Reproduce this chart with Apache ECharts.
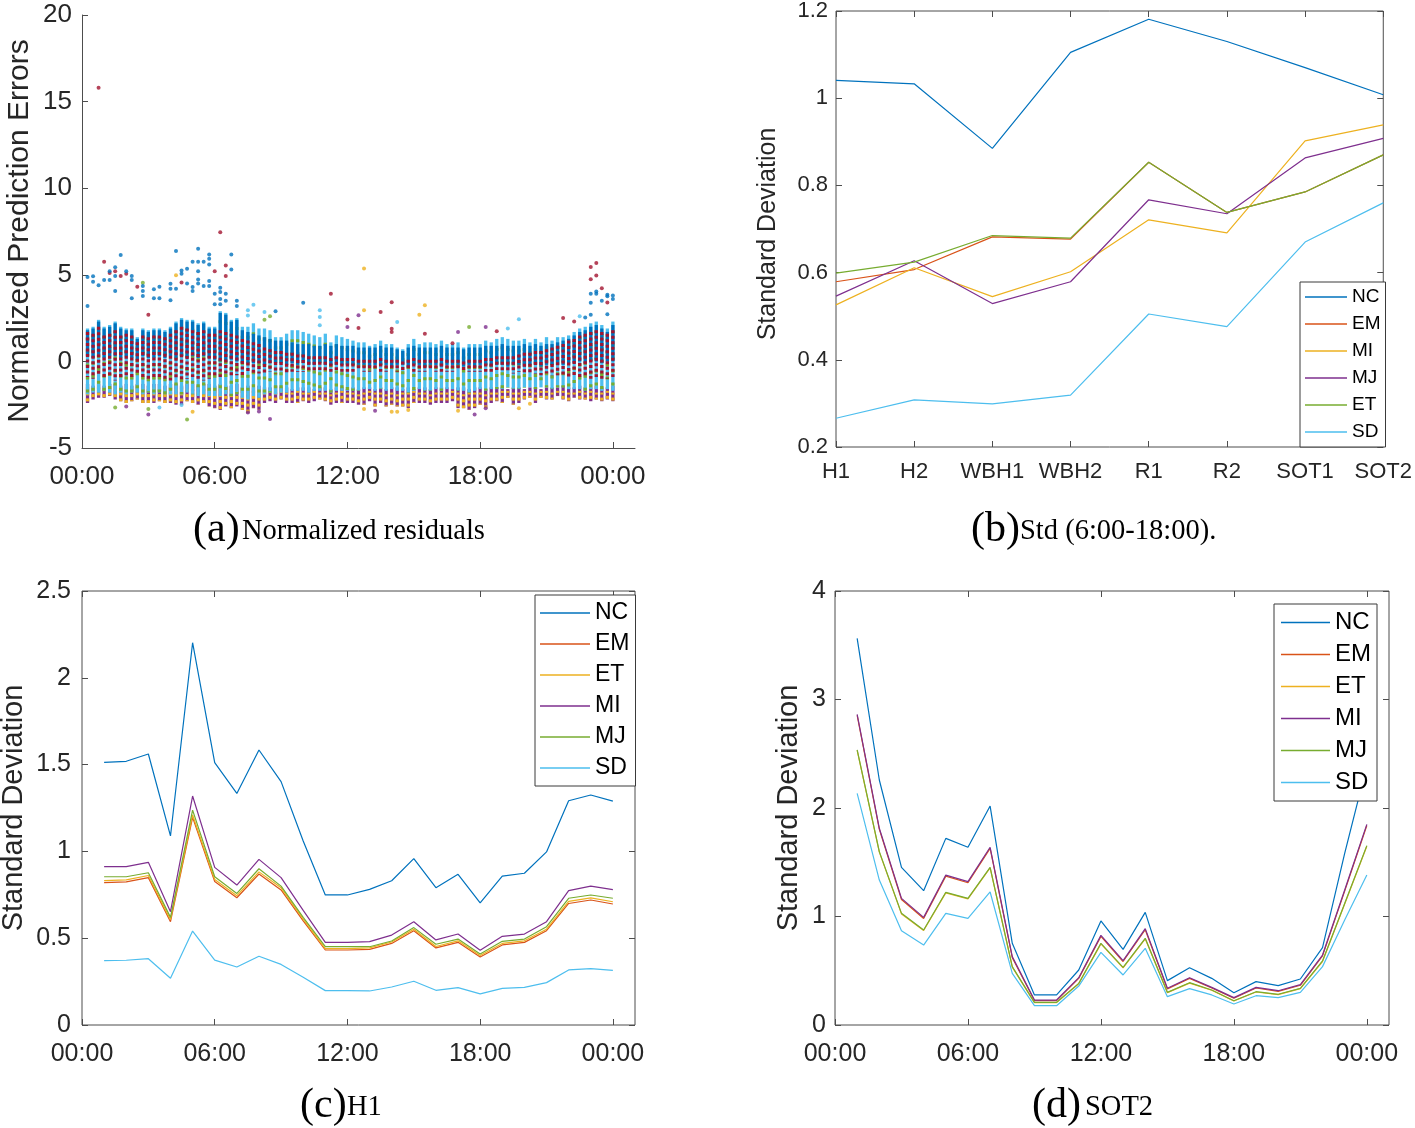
<!DOCTYPE html>
<html><head><meta charset="utf-8">
<script src="https://cdn.jsdelivr.net/npm/echarts@6/dist/echarts.min.js"></script>
<style>html,body{margin:0;padding:0;background:#fff}#c{width:1415px;height:1128px}</style>
</head><body><div id="c"></div>
<script>
// ---------- Panel (a): normalized residuals, 15-min slots ----------
const slotHours = [0.25,0.5,0.75,1,1.25,1.5,1.75,2, 2.25,2.5,2.75,3,3.25,3.5,3.75,4, 4.25,4.5,4.75,5,5.25,5.5,5.75,6, 6.25,6.5,6.75,7,7.25,7.5,7.75,8, 8.25,8.5,8.75,9,9.25,9.5,9.75,10, 10.25,10.5,10.75,11,11.25,11.5,11.75,12, 12.25,12.5,12.75,13,13.25,13.5,13.75,14, 14.25,14.5,14.75,15,15.25,15.5,15.75,16, 16.25,16.5,16.75,17,17.25,17.5,17.75,18, 18.25,18.5,18.75,19,19.25,19.5,19.75,20, 20.25,20.5,20.75,21,21.25,21.5,21.75,22, 22.25,22.5,22.75,23,23.25,23.5,23.75,24];
const colTop = [1.9,2.0,2.4,2.0,2.1,2.3,2.0,1.9, 1.9,1.4,1.9,1.8,1.9,1.9,1.8,2.0, 2.3,2.5,2.4,2.4,2.2,2.3,2.0,2.0, 2.9,2.8,2.4,2.5,2.0,2.0,2.2,1.9, 1.9,1.8,1.4,1.4,1.6,1.8,1.8,1.7, 1.6,1.5,1.4,1.6,1.1,1.5,1.4,1.3, 1.2,1.1,1.1,0.9,1.0,1.2,1.0,1.0, 0.8,0.7,1.0,1.3,1.0,1.1,1.1,1.0, 1.2,1.0,1.0,1.1,0.8,1.0,1.0,1.0, 1.2,1.1,1.3,1.4,1.3,1.2,1.2,1.3, 1.1,1.3,1.1,1.4,1.2,1.4,1.4,1.5, 1.7,1.9,2.0,2.2,2.3,2.1,1.9,2.3];
const colBottom = [-2.4,-2.2,-2.1,-2.1,-2.0,-2.2,-2.3,-2.4, -2.3,-2.2,-2.4,-2.4,-2.4,-2.3,-2.4,-2.4, -2.5,-2.5,-2.3,-2.4,-2.5,-2.4,-2.6,-2.7, -2.8,-2.6,-2.7,-2.6,-2.8,-3.0,-2.7,-2.8, -2.4,-2.3,-2.4,-2.2,-2.4,-2.4,-2.4,-2.3, -2.4,-2.3,-2.2,-2.3,-2.5,-2.4,-2.4,-2.4, -2.4,-2.5,-2.5,-2.3,-2.6,-2.4,-2.6,-2.5, -2.6,-2.6,-2.7,-2.4,-2.4,-2.4,-2.5,-2.4, -2.4,-2.4,-2.3,-2.7,-2.7,-2.8,-2.7,-2.5, -2.7,-2.4,-2.3,-2.4,-2.1,-2.5,-2.4,-2.2, -2.1,-2.4,-2.1,-2.2,-2.2,-2.0,-2.2,-2.3, -2.1,-2.2,-2.2,-2.3,-2.2,-2.3,-2.2,-2.3];
const ncHi = [1.8,1.9,2.3,1.9,2.0,2.2,1.9,1.8, 1.8,1.3,1.8,1.7,1.8,1.8,1.7,1.9, 2.2,2.4,2.3,2.3,2.1,2.2,1.9,1.9, 2.8,2.7,2.3,2.4,1.8,1.7,1.6,1.5, 1.4,1.3,1.2,1.2,1.2,1.1,1.0,1.0, 1.0,0.9,0.9,1.0,0.9,1.0,0.9,0.9, 0.9,0.8,0.8,0.8,0.8,0.9,0.8,0.8, 0.7,0.6,0.8,0.9,0.8,0.8,0.8,0.8, 0.9,0.8,0.8,0.8,0.7,0.8,0.8,0.8, 0.9,0.9,0.9,1.0,0.9,0.9,0.9,1.0, 0.9,1.0,0.9,1.0,1.0,1.1,1.2,1.3, 1.5,1.7,1.8,2.0,2.1,1.9,1.7,2.1];
const ncLo = [0.3,0.2,0.4,0.2,0.3,0.3,0.2,0.3, 0.2,0.1,0.3,0.2,0.2,0.3,0.2,0.3, 0.2,0.3,0.2,0.3,0.2,0.3,0.2,0.1, 0.0,0.0,0.1,0.0,-0.1,-0.1,-0.1,-0.1, -0.2,-0.1,-0.1,-0.1,-0.2,-0.1,-0.2,-0.1, -0.2,-0.2,-0.1,-0.2,-0.2,-0.2,-0.2,-0.2, -0.2,-0.2,-0.2,-0.3,-0.2,-0.2,-0.2,-0.3, -0.2,-0.2,-0.3,-0.2,-0.2,-0.3,-0.2,-0.2, -0.3,-0.2,-0.2,-0.2,-0.3,-0.2,-0.3,-0.2, -0.2,-0.3,-0.2,-0.2,-0.3,-0.2,-0.2,-0.3, -0.2,-0.2,-0.3,-0.2,-0.2,-0.2,-0.2,-0.1, -0.1,0.0,-0.1,0.0,0.0,-0.1,0.0,0.0];
const emHi = [1.7,1.6,2.0,1.5,1.6,1.8,1.5,1.6, 1.5,1.1,1.5,1.4,1.5,1.5,1.4,1.6, 1.8,2.0,1.9,1.8,1.7,1.8,1.6,1.6, 1.8,1.7,1.6,1.5,1.3,1.2,1.1,1.0, 0.8,0.7,0.6,0.6,0.5,0.5,0.4,0.4, 0.3,0.3,0.3,0.3,0.2,0.3,0.2,0.2, 0.2,0.1,0.1,0.1,0.1,0.2,0.1,0.1, 0.1,0.0,0.1,0.2,0.1,0.1,0.1,0.1, 0.2,0.1,0.1,0.1,0.0,0.1,0.1,0.1, 0.2,0.2,0.3,0.3,0.3,0.3,0.4,0.5, 0.5,0.6,0.6,0.7,0.8,0.9,1.0,1.2, 1.3,1.5,1.6,1.7,1.8,1.7,1.6,1.8];
const emLo = [-0.9,-1.0,-0.8,-1.0,-0.9,-1.1,-1.0,-0.9, -1.0,-0.8,-1.0,-1.1,-1.0,-0.9,-1.0,-1.1, -1.0,-1.1,-1.0,-0.9,-1.0,-1.1,-1.0,-0.9, -0.9,-0.8,-0.9,-0.8,-0.8,-0.7,-0.8,-0.7, -0.7,-0.6,-0.7,-0.6,-0.7,-0.6,-0.6,-0.6, -0.6,-0.6,-0.5,-0.6,-0.6,-0.5,-0.6,-0.6, -0.6,-0.5,-0.6,-0.6,-0.5,-0.6,-0.6,-0.5, -0.6,-0.6,-0.5,-0.6,-0.6,-0.6,-0.5,-0.6, -0.6,-0.6,-0.6,-0.5,-0.6,-0.6,-0.6,-0.6, -0.6,-0.6,-0.5,-0.6,-0.6,-0.7,-0.6,-0.7, -0.7,-0.7,-0.8,-0.7,-0.8,-0.8,-0.9,-0.9, -0.9,-1.0,-0.9,-1.0,-0.9,-1.0,-1.0,-0.9];
const sdLo = [-1.9,-1.8,-1.8,-1.7,-1.8,-1.9,-1.8,-1.9, -1.8,-1.8,-1.9,-1.8,-1.9,-1.8,-1.9,-1.9, -1.9,-1.9,-1.8,-1.9,-2.0,-1.9,-2.0,-2.0, -2.0,-1.9,-2.0,-1.9,-2.1,-2.2,-2.0,-2.1, -1.9,-1.8,-1.9,-1.8,-1.8,-1.7,-1.7,-1.7, -1.8,-1.7,-1.7,-1.7,-1.8,-1.7,-1.7,-1.7, -1.7,-1.7,-1.6,-1.6,-1.7,-1.6,-1.7,-1.6, -1.7,-1.7,-1.8,-1.7,-1.6,-1.7,-1.7,-1.6, -1.7,-1.6,-1.6,-1.7,-1.7,-1.8,-1.7,-1.6, -1.7,-1.6,-1.6,-1.6,-1.5,-1.6,-1.6,-1.5, -1.5,-1.6,-1.5,-1.5,-1.6,-1.5,-1.5,-1.6, -1.6,-1.6,-1.7,-1.6,-1.6,-1.7,-1.6,-1.7];
const mjTop = [-1.3,-1.4,-1.3,-1.4,-1.3,-1.3,-1.4,-1.3, -1.4,-1.3,-1.3,-1.4,-1.3,-1.3,-1.4,-1.3, -1.3,-1.4,-1.3,-1.3,-1.4,-1.3,-1.3,-1.4, -1.3,-1.4,-1.4,-1.3,-1.5,-1.4,-1.5,-1.4, -1.5,-1.5,-1.4,-1.5,-1.5,-1.6,-1.5,-1.5, -1.5,-1.6,-1.5,-1.5,-1.6,-1.5,-1.5,-1.6, -1.5,-1.6,-1.5,-1.5,-1.6,-1.5,-1.6,-1.5, -1.5,-1.6,-1.5,-1.6,-1.5,-1.5,-1.6,-1.5, -1.5,-1.5,-1.6,-1.5,-1.5,-1.6,-1.5,-1.5, -1.6,-1.5,-1.5,-1.5,-1.6,-1.5,-1.5,-1.6, -1.5,-1.5,-1.6,-1.5,-1.5,-1.5,-1.4,-1.5, -1.5,-1.4,-1.5,-1.5,-1.4,-1.5,-1.5,-1.4];
const miTop = [-1.5,-1.6,-1.5,-1.6,-1.5,-1.6,-1.5,-1.6, -1.6,-1.5,-1.6,-1.6,-1.5,-1.6,-1.6,-1.5, -1.6,-1.5,-1.6,-1.6,-1.5,-1.6,-1.6,-1.7, -1.6,-1.7,-1.6,-1.7,-1.7,-1.8,-1.7,-1.8, -1.8,-1.7,-1.8,-1.7,-1.8,-1.8,-1.7,-1.8, -1.8,-1.7,-1.8,-1.8,-1.9,-1.8,-1.7,-1.8, -1.8,-1.9,-1.8,-1.7,-1.8,-1.8,-1.9,-1.8, -1.9,-1.8,-1.8,-1.7,-1.8,-1.8,-1.9,-1.8, -1.8,-1.8,-1.7,-1.8,-1.9,-1.8,-1.8,-1.8, -1.9,-1.8,-1.8,-1.7,-1.7,-1.8,-1.8,-1.7, -1.7,-1.8,-1.7,-1.7,-1.8,-1.7,-1.7,-1.8, -1.8,-1.7,-1.8,-1.7,-1.8,-1.8,-1.7,-1.8];
// isolated points [hour, value]
const ncOut = [[0.25,4.87],[0.25,3.2],[0.5,4.92],[0.5,4.6],[0.75,4.4],[1.0,4.7],[1.25,5.2],[1.25,4.7],[1.5,5.44],[1.5,4.93],[1.5,4.07],[1.75,6.14],[2.0,5.2],[2.25,4.93],[2.25,4.7],[2.25,3.64],[2.75,4.35],[2.75,4.07],[2.75,3.77],[3.25,4.16],[3.25,3.64],[3.5,4.31],[3.5,3.64],[4.0,4.49],[4.0,4.2],[4.0,3.53],[4.25,6.37],[4.25,4.2],[4.5,5.25],[4.5,5.06],[4.75,5.35],[4.75,4.5],[5.0,5.75],[5.0,4.29],[5.0,4.07],[5.25,6.5],[5.25,5.75],[5.25,5.2],[5.25,4.73],[5.25,4.5],[5.5,5.75],[5.5,4.35],[5.75,6.17],[5.75,5.92],[5.75,5.6],[5.75,4.64],[5.75,4.35],[6.0,3.9],[6.0,3.3],[6.25,4.25],[6.25,4.0],[6.25,3.6],[6.25,3.3],[6.5,3.9],[6.5,3.5],[6.75,6.17],[6.75,5.31],[7.0,3.5],[7.0,3.2],[8.75,2.9],[10.0,3.39],[22.75,2.54],[23.0,3.9],[23.0,3.39],[23.0,2.7],[23.25,4.04],[23.25,3.9],[23.5,3.5],[23.75,3.76],[23.75,3.85],[23.75,2.72],[24.0,3.8],[24.0,3.6]];
const emOut = [[0.75,15.8],[1.0,5.75],[1.25,5.1],[1.5,5.2],[1.75,4.93],[2.0,5.06],[2.5,4.31],[3.0,2.7],[4.5,4.55],[6.0,5.2],[6.25,7.46],[6.5,5.53],[6.5,4.93],[11.25,3.9],[12.0,2.42],[12.5,1.93],[13.5,2.85],[14.0,3.41],[14.0,1.89],[14.0,1.7],[15.5,1.6],[16.75,1.05],[18.75,1.74],[21.75,2.51],[22.25,2.3],[23.0,5.45],[23.25,5.68],[23.0,4.74],[23.25,4.96],[23.5,4.23],[23.75,3.4]];
const miOut = [[4.25,4.98],[12.75,5.37],[12.75,2.95],[15.5,3.24],[15.25,2.69],[5.0,-2.9],[12.75,-2.75],[14.0,-2.91],[14.25,-2.91],[14.75,-2.8],[17.0,-2.85],[19.75,-2.7],[20.25,-2.45]];
const mjOut = [[12.5,2.66],[12.0,1.98],[17.0,1.7],[18.25,1.98],[2.0,-2.6],[3.0,-3.06],[7.5,-2.95],[8.0,-2.89],[8.5,-3.33],[13.25,-2.85],[17.75,-3.06],[18.25,-2.7]];
const etOut = [[2.75,4.54],[8.25,2.4],[8.5,2.6],[17.5,1.99],[1.5,-2.66],[3.0,-2.75],[4.75,-3.35]];
const sdOut = [[3.5,-2.66],[4.5,-2.52],[7.5,2.95],[7.5,2.65],[7.75,3.27],[8.25,2.85],[10.75,2.95],[10.75,2.57],[10.75,2.09],[14.25,2.28],[19.25,1.9],[19.75,2.43],[22.5,2.6]];

// ---------- Panel (b): Std (6:00-18:00) ----------
const bCats = ['H1','H2','WBH1','WBH2','R1','R2','SOT1','SOT2'];
const bNC = [1.041,1.033,0.885,1.105,1.181,1.130,1.070,1.008];
const bEM = [0.579,0.607,0.682,0.677,0.853,0.738,0.785,0.870];
const bMI = [0.526,0.611,0.545,0.602,0.721,0.691,0.902,0.939];
const bMJ = [0.546,0.627,0.529,0.579,0.767,0.735,0.863,0.908];
const bET = [0.599,0.624,0.685,0.679,0.853,0.738,0.785,0.870];
const bSD = [0.266,0.308,0.299,0.319,0.505,0.476,0.670,0.760];

// ---------- Panels (c) H1 and (d) SOT2: hourly std ----------
const hours = [1,2,3,4,5,6,7,8,9,10,11,12,13,14,15,16,17,18,19,20,21,22,23,24];
const cNC = [1.513,1.519,1.561,1.089,2.202,1.511,1.334,1.584,1.402,1.06,0.749,0.749,0.781,0.831,0.958,0.791,0.868,0.703,0.858,0.874,0.997,1.292,1.325,1.290];
const cEM = [0.82,0.824,0.849,0.595,1.196,0.826,0.733,0.87,0.778,0.60,0.432,0.432,0.436,0.47,0.543,0.444,0.476,0.392,0.461,0.476,0.543,0.70,0.72,0.697];
const cET = [0.832,0.836,0.861,0.607,1.21,0.838,0.745,0.882,0.79,0.61,0.44,0.44,0.444,0.478,0.552,0.452,0.485,0.40,0.47,0.485,0.552,0.712,0.732,0.71];
const cMI = [0.912,0.912,0.937,0.653,1.319,0.908,0.806,0.954,0.849,0.66,0.476,0.476,0.48,0.518,0.595,0.49,0.524,0.43,0.511,0.524,0.595,0.774,0.80,0.78];
const cMJ = [0.854,0.854,0.877,0.62,1.238,0.854,0.758,0.90,0.80,0.62,0.451,0.451,0.451,0.484,0.561,0.465,0.495,0.409,0.482,0.495,0.566,0.73,0.749,0.73];
const cSD = [0.371,0.373,0.382,0.269,0.541,0.374,0.334,0.396,0.349,0.275,0.198,0.198,0.196,0.219,0.252,0.2,0.215,0.179,0.211,0.217,0.244,0.317,0.325,0.315];
const dNC = [3.564,2.258,1.453,1.238,1.72,1.638,2.018,0.753,0.277,0.277,0.507,0.959,0.697,1.038,0.409,0.528,0.43,0.298,0.40,0.363,0.424,0.713,1.582,2.39];
const dEM = [2.853,1.803,1.157,0.982,1.372,1.311,1.628,0.62,0.225,0.225,0.43,0.816,0.585,0.878,0.332,0.43,0.341,0.247,0.341,0.31,0.366,0.637,1.234,1.839];
const dET = [2.53,1.593,1.024,0.871,1.218,1.162,1.448,0.534,0.206,0.206,0.38,0.748,0.527,0.794,0.298,0.386,0.32,0.221,0.304,0.28,0.335,0.585,1.115,1.648];
const dMI = [2.863,1.813,1.167,0.992,1.382,1.321,1.638,0.63,0.23,0.23,0.436,0.826,0.593,0.888,0.338,0.436,0.347,0.252,0.347,0.316,0.372,0.645,1.244,1.849];
const dMJ = [2.535,1.598,1.029,0.876,1.223,1.167,1.453,0.538,0.209,0.209,0.384,0.753,0.531,0.799,0.301,0.39,0.323,0.224,0.307,0.283,0.338,0.59,1.12,1.653];
const dSD = [2.135,1.336,0.869,0.737,1.029,0.983,1.226,0.476,0.178,0.178,0.359,0.67,0.461,0.707,0.261,0.335,0.277,0.194,0.27,0.252,0.301,0.538,0.968,1.382];

const tickHours = [0,6,12,18,24];
const tickLabels = ['00:00','06:00','12:00','18:00','00:00'];

// ---------- styling ----------
const FONT = '"Liberation Sans", Arial, Helvetica, sans-serif';
const SERIF = '"Liberation Serif", "Times New Roman", serif';
const LBL = '#262626', AX = '#4d4d4d';
const C = {blue:'#0072BD', orange:'#D95319', yellow:'#EDB120', purple:'#7E2F8E', green:'#77AC30', cyan:'#4DBEEE', dred:'#A2142F'};

const chart = echarts.init(document.getElementById('c'), null, {renderer:'canvas'});

function hourFmt(v){ const i = tickHours.indexOf(Math.round(v)); return i >= 0 ? tickLabels[i] : ''; }
function timeAxis(grid, fs, margin){
  return {type:'value', gridIndex:grid, min:0, max:25, interval:6,
    axisLine:{show:grid===0, onZero:false, lineStyle:{color:AX, width:1}},
    axisTick:{show:true, inside:true, length:6, customValues:tickHours, lineStyle:{color:AX}},
    axisLabel:{show:true, customValues:tickHours, formatter:hourFmt, fontSize:fs, fontFamily:FONT, color:LBL, margin:margin},
    splitLine:{show:false}};
}
function mirrorTime(grid){
  return {type:'value', gridIndex:grid, position:'top', min:0, max:25, interval:6,
    axisLine:{show:false, onZero:false}, axisTick:{show:true, inside:true, length:6, customValues:tickHours, lineStyle:{color:AX}},
    axisLabel:{show:false}, splitLine:{show:false}};
}
function valAxis(grid, min, max, step, fs, margin, showLine){
  return {type:'value', gridIndex:grid, min:min, max:max, interval:step,
    axisLine:{show:!!showLine, onZero:false, lineStyle:{color:AX, width:1}},
    axisTick:{show:true, inside:true, length:6, lineStyle:{color:AX}},
    axisLabel:{fontSize:fs, fontFamily:FONT, color:LBL, margin:margin},
    splitLine:{show:false}};
}
function mirrorVal(grid, min, max, step){
  return {type:'value', gridIndex:grid, position:'right', min:min, max:max, interval:step,
    axisLine:{show:false, onZero:false}, axisTick:{show:true, inside:true, length:6, lineStyle:{color:AX}},
    axisLabel:{show:false}, splitLine:{show:false}};
}

function band(name, lo, hi, color, width, dash, off){
  return {type:'custom', name:name, xAxisIndex:0, yAxisIndex:0, silent:true, clip:true,
    data: slotHours.map((h,i)=>[h, lo[i], hi[i]]),
    encode:{x:0, y:[1,2]},
    renderItem:function(params, api){
      const x = api.value(0), l = api.value(1), u = api.value(2);
      const p1 = api.coord([x, u]), p2 = api.coord([x, l]);
      const st = {stroke:color, lineWidth:width, lineCap:'butt'};
      if (dash) { st.lineDash = dash; st.lineDashOffset = off; }
      return {type:'line', shape:{x1:p1[0], y1:p1[1], x2:p2[0], y2:p2[1]}, style:st};
    }};
}
function pts(name, data, color){
  return {type:'scatter', name:name, xAxisIndex:0, yAxisIndex:0, silent:true, symbolSize:4,
    itemStyle:{color:color}, data:data};
}
function line(name, xi, yi, data, color){
  return {type:'line', name:name, xAxisIndex:xi, yAxisIndex:yi, data:data, symbol:'none', silent:true,
    lineStyle:{color:color, width:1.2}, itemStyle:{color:color}};
}
const pair = arr => hours.map((h,i)=>[h, arr[i]]);

const series = [
  band('a-MJ', colBottom, mjTop, C.purple, 3.3, null, 0),
  band('a-MI', colBottom, miTop, C.yellow, 3.3, [3,3], 1),
  band('a-SD', sdLo, colTop, C.cyan, 3.3, null, 0),
  band('a-ET', sdLo, colTop, C.green, 3.3, [3,10], 4),
  band('a-NC', ncLo, ncHi, C.blue, 3.3, null, 0),
  band('a-EM', emLo, emHi, C.dred, 3.3, [3,2.5], 0),
  pts('a-MJo', mjOut, C.purple), pts('a-MIo', miOut, C.yellow), pts('a-SDo', sdOut, C.cyan),
  pts('a-ETo', etOut, C.green), pts('a-EMo', emOut, C.dred), pts('a-NCo', ncOut, C.blue),
  // (b)
  line('b:NC',1,1,bNC,C.blue), line('b:EM',1,1,bEM,C.orange), line('b:MI',1,1,bMI,C.yellow),
  line('b:MJ',1,1,bMJ,C.purple), line('b:ET',1,1,bET,C.green), line('b:SD',1,1,bSD,C.cyan),
  // (c)
  line('c:NC',3,3,pair(cNC),C.blue), line('c:EM',3,3,pair(cEM),C.orange), line('c:ET',3,3,pair(cET),C.yellow),
  line('c:MI',3,3,pair(cMI),C.purple), line('c:MJ',3,3,pair(cMJ),C.green), line('c:SD',3,3,pair(cSD),C.cyan),
  // (d)
  line('d:NC',5,5,pair(dNC),C.blue), line('d:EM',5,5,pair(dEM),C.orange), line('d:ET',5,5,pair(dET),C.yellow),
  line('d:MI',5,5,pair(dMI),C.purple), line('d:MJ',5,5,pair(dMJ),C.green), line('d:SD',5,5,pair(dSD),C.cyan)
];

function legend(names, left, top, pad, iw, fs, lh, gap){
  return {show:true, orient:'vertical', left:left, top:top, data:names, padding:pad,
    icon:'rect', itemWidth:iw, itemHeight:1.3, itemGap:gap, selectedMode:false,
    formatter:function(n){ return n.split(':')[1]; },
    textStyle:{fontSize:fs, lineHeight:lh, fontFamily:FONT, color:'#000'},
    borderColor:'#3a3a3a', borderWidth:1, backgroundColor:'#fff', z:10};
}

function capTag(x, y, txt){
  return {type:'text', x:x, y:y, z:100,
    style:{text:txt, fontSize:42, fontFamily:SERIF, fill:'#000', align:'left', verticalAlign:'middle'}};
}
function capText(x, y, txt){
  return {type:'text', x:x, y:y, z:100,
    style:{text:txt, fontSize:28.5, fontFamily:SERIF, fill:'#000', align:'left', verticalAlign:'middle'}};
}
function ytitle(x, y, fs, txt){
  return {type:'text', x:x, y:y, rotation:Math.PI/2, z:100,
    style:{text:txt, fontSize:fs, fontFamily:FONT, fill:LBL, align:'center', verticalAlign:'middle'}};
}

const option = {
  animation:false,
  backgroundColor:'#fff',
  grid:[
    {left:82, top:15, width:553, height:433, show:false},
    {left:836, top:7, width:551, height:440, show:true, borderColor:AX, borderWidth:1, backgroundColor:'transparent'},
    {left:82, top:591, width:553, height:434, show:true, borderColor:AX, borderWidth:1, backgroundColor:'transparent'},
    {left:835, top:591, width:554, height:434, show:true, borderColor:AX, borderWidth:1, backgroundColor:'transparent'}
  ],
  xAxis:[
    timeAxis(0, 26, 16),
    {type:'category', gridIndex:1, data:bCats, boundaryGap:false,
      axisLine:{show:false}, axisTick:{show:true, inside:true, length:6, lineStyle:{color:AX}},
      axisLabel:{fontSize:22, fontFamily:FONT, color:LBL, margin:14, interval:0}, splitLine:{show:false}},
    {type:'category', gridIndex:1, data:bCats, boundaryGap:false, position:'top',
      axisLine:{show:false}, axisTick:{show:true, inside:true, length:6, lineStyle:{color:AX}},
      axisLabel:{show:false}, splitLine:{show:false}},
    timeAxis(2, 25, 17), mirrorTime(2),
    timeAxis(3, 25, 17), mirrorTime(3)
  ],
  yAxis:[
    valAxis(0, -5, 20, 5, 26, 10, true),
    valAxis(1, 0.2, 1.2, 0.2, 22, 8), mirrorVal(1, 0.2, 1.2, 0.2),
    valAxis(2, 0, 2.5, 0.5, 25, 11), mirrorVal(2, 0, 2.5, 0.5),
    valAxis(3, 0, 4, 1, 25, 9), mirrorVal(3, 0, 4, 1)
  ],
  legend:[
    legend(['b:NC','b:EM','b:MI','b:MJ','b:ET','b:SD'], 1300, 282, [5,5,5,5], 42, 19, 20, 7),
    legend(['c:NC','c:EM','c:ET','c:MI','c:MJ','c:SD'], 535, 595, [6,6,6,5], 50, 23, 24, 7),
    legend(['d:NC','d:EM','d:ET','d:MI','d:MJ','d:SD'], 1274, 604, [6,6,6,7], 49, 24, 25, 7)
  ],
  graphic:[
    ytitle(20, 231, 30, 'Normalized Prediction Errors'),
    ytitle(768, 234, 25, 'Standard Deviation'),
    ytitle(14, 808, 29, 'Standard Deviation'),
    ytitle(789, 808, 29, 'Standard Deviation'),
    capTag(193, 530, '(a)'), capText(242, 532, 'Normalized residuals'),
    capTag(971, 530, '(b)'), capText(1020, 532, 'Std (6:00-18:00).'),
    capTag(300, 1106, '(c)'), capText(347, 1108, 'H1'),
    capTag(1032, 1106, '(d)'), capText(1085, 1108, 'SOT2')
  ],
  series:series
};
chart.setOption(option);
</script>
</body></html>
